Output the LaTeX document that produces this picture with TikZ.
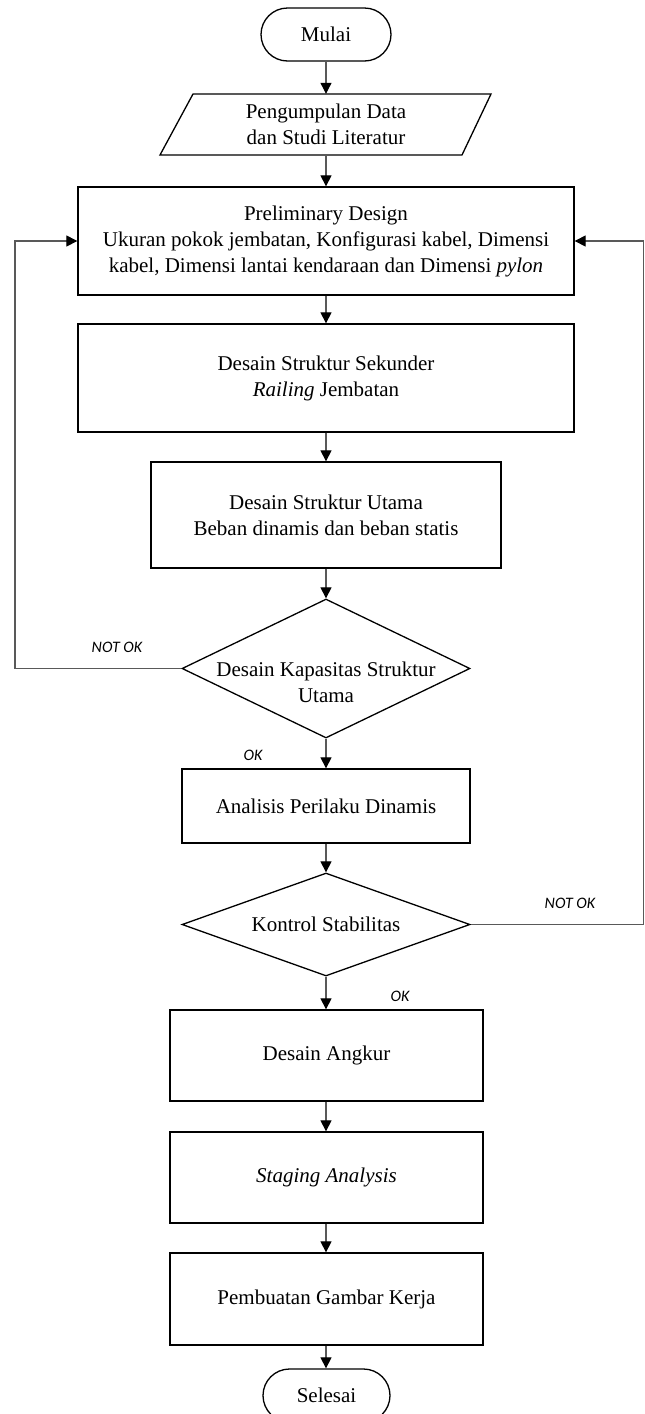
\documentclass[tikz,border=0pt]{standalone}
\usepackage{fontspec}
\setmainfont{Liberation Serif}
\newfontfamily\labfont{Carlito}
\usetikzlibrary{arrows.meta,shapes.geometric}
\begin{document}
\begin{tikzpicture}[x=1pt,y=-1pt,
  font=\fontsize{21}{26}\selectfont,
  box/.style={draw=black,line width=1.3pt,rectangle,inner sep=0pt,align=center},
  term/.style={draw=black,line width=1.3pt,rectangle,rounded corners=26.5pt,inner sep=0pt,minimum width=130pt,minimum height=53pt},
  dec/.style={draw=black,line width=1.3pt,diamond,inner sep=0pt,minimum width=288pt},
  txt/.style={inner sep=0pt,align=center},
  conn/.style={draw=black!65,line width=1.1pt,-{Triangle[length=11pt,width=11pt,color=black]}},
  lbl/.style={inner sep=0pt,font=\labfont\itshape\fontsize{16}{18}\selectfont}]
\useasboundingbox (0,0) rectangle (645,1414);
\fill[white] (0,0) rectangle (645,1414);

\node[term] (mulai) at (326,34.5) {Mulai};

\node[txt,minimum width=302pt,minimum height=61pt] (data) at (326,124.5) {Pengumpulan Data\\dan Studi Literatur};
\draw[line width=1.3pt,line join=miter] (193,94) -- (491,94) -- (462,155) -- (160,155) -- cycle;

\node[box,minimum width=496pt,minimum height=108pt] (prelim) at (326,241) {Preliminary Design\\Ukuran pokok jembatan, Konfigurasi kabel, Dimensi\\kabel, Dimensi lantai kendaraan dan Dimensi \textit{pylon}};

\node[box,minimum width=496pt,minimum height=108pt] (sek) at (326,378) {Desain Struktur Sekunder\\\textit{Railing} Jembatan};

\node[box,minimum width=350pt,minimum height=106pt] (utama) at (326,515) {Desain Struktur Utama\\Beban dinamis dan beban statis};

\node[dec,minimum height=139pt] (d1) at (326,668.5) {};
\node[txt] (d1t) at (326,682) {Desain Kapasitas Struktur\\Utama};

\node[box,minimum width=288pt,minimum height=74pt] (anal) at (326,806) {Analisis Perilaku Dinamis};

\node[dec,minimum height=103pt] (d2) at (326,924.5) {};
\node[txt] (d2t) at (326,924.5) {Kontrol Stabilitas};

\node[box,minimum width=313pt,minimum height=91pt] (angkur) at (326.5,1055.5) {Desain Angkur};
\node[box,minimum width=313pt,minimum height=91pt] (staging) at (326.5,1177.5) {\textit{Staging Analysis}};
\node[box,minimum width=313pt,minimum height=92pt] (pemb) at (326.5,1299) {Pembuatan Gambar Kerja};

\node[term,minimum width=127pt] (selesai) at (326.5,1395.5) {Selesai};

\draw[conn] (mulai.south) -- (data.north);
\draw[conn] (data.south) -- (prelim.north);
\draw[conn] (prelim.south) -- (sek.north);
\draw[conn] (sek.south) -- (utama.north);
\draw[conn] (utama.south) -- (d1.north);
\draw[conn] (d1.south) -- (anal.north);
\draw[conn] (anal.south) -- (d2.north);
\draw[conn] (d2.south) -- (d2.south |- angkur.north);
\draw[conn] (angkur.south -| d2.south) -- (staging.north -| d2.south);
\draw[conn] (staging.south -| d2.south) -- (pemb.north -| d2.south);
\draw[conn] (pemb.south -| d2.south) -- (selesai.north -| d2.south);

\coordinate (lc) at (15,668.5);
\coordinate (rc) at (643.5,924.5);
\draw[conn] (d1.west) -- (lc) |- (prelim.west);
\draw[conn] (d2.east) -- (rc) |- (prelim.east);

\node[lbl] (nok1) at (117,647) {NOT OK};
\node[lbl] (ok1) at (253,755) {OK};
\node[lbl] (nok2) at (570,903) {NOT OK};
\node[lbl] (ok2) at (400,996) {OK};
\end{tikzpicture}
\end{document}
